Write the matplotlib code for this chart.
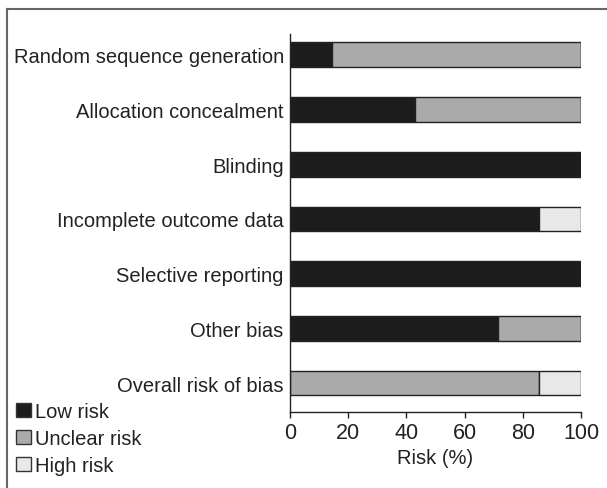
import matplotlib
matplotlib.use("Agg")
import matplotlib.pyplot as plt
from matplotlib.patches import Patch
from matplotlib.lines import Line2D
import numpy as np

plt.rcParams['font.family'] = ['Liberation Sans', 'DejaVu Sans']

categories = ["Random sequence generation", "Allocation concealment", "Blinding",
              "Incomplete outcome data", "Selective reporting", "Other bias",
              "Overall risk of bias"]
low_risk = [14.3, 42.9, 100.0, 85.7, 100.0, 71.4, 0.0]
unclear_risk = [85.7, 57.1, 0.0, 0.0, 0.0, 28.6, 85.7]
high_risk = [0.0, 0.0, 0.0, 14.3, 0.0, 0.0, 14.3]
series_names = ["Low risk", "Unclear risk", "High risk"]
colors = ["#1c1c1c", "#aaaaaa", "#e8e8e8"]
xticks = [0, 20, 40, 60, 80, 100]

fig = plt.figure(figsize=(6.07, 4.89), dpi=100)
ax = fig.add_axes([290/607, 76/489, 291/607, 378/489])

y = np.arange(len(categories))
left = np.zeros(len(categories))
for vals, c in zip([low_risk, unclear_risk, high_risk], colors):
    vals = np.array(vals)
    ax.barh(y, vals, left=left, height=0.45, color=c, edgecolor="#222222", linewidth=1.0)
    left += vals

ax.set_ylim(6.53, -0.38)
ax.set_xlim(0, 100)
ax.set_yticks(y)
ax.set_yticklabels(categories, fontsize=14.5, color="#222222")
ax.tick_params(axis='y', length=0, pad=4.5)
ax.set_xticks(xticks)
ax.set_xticklabels([str(t) for t in xticks], fontsize=15.5, color="#222222")
ax.tick_params(axis='x', direction='out', length=4, width=1, color="#222222", pad=3)
ax.set_xlabel("Risk (%)", fontsize=14.5, color="#222222", labelpad=4)
for s in ['top', 'right']:
    ax.spines[s].set_visible(False)
for s in ['left', 'bottom']:
    ax.spines[s].set_color("#222222")
    ax.spines[s].set_linewidth(1.0)

handles = [Patch(facecolor=c, edgecolor="#333333", linewidth=1.0, label=n)
           for c, n in zip(colors, series_names)]
fig.legend(handles=handles, loc='upper left', bbox_to_anchor=(16/607, 1 - 403/489),
           frameon=False, fontsize=14.5, handlelength=0.75, handleheight=0.75,
           handletextpad=0.2, labelspacing=0.4, borderaxespad=0, borderpad=0,
           labelcolor="#222222")

# figure frame (top and left edges)
fig.add_artist(Line2D([7/607, 7/607], [0, 1 - 10/489], transform=fig.transFigure,
                      color="#666666", linewidth=1.5))
fig.add_artist(Line2D([7/607, 1], [1 - 10/489, 1 - 10/489], transform=fig.transFigure,
                      color="#666666", linewidth=1.5))

fig.savefig("out.png", dpi=100)
